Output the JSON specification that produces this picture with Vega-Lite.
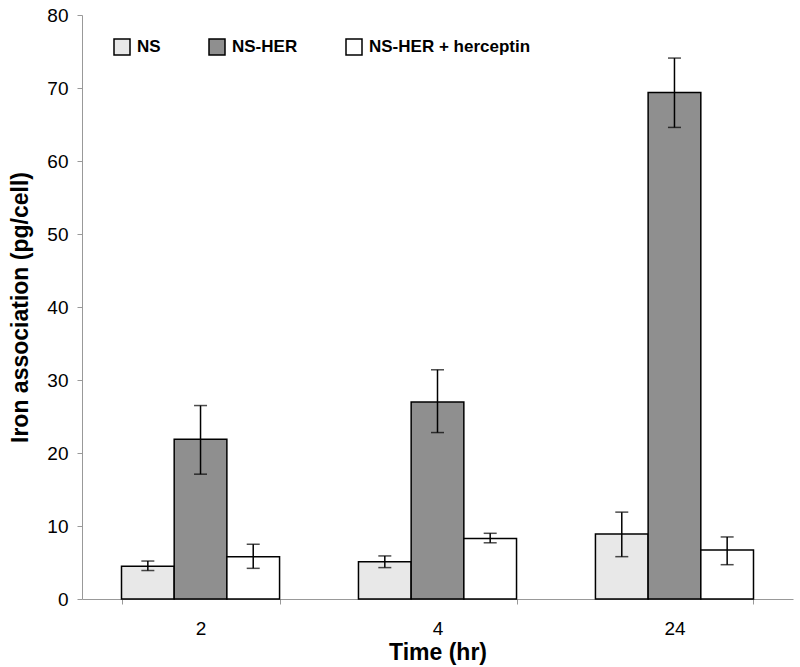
{
  "$schema": "https://vega.github.io/schema/vega-lite/v6.json",
  "width": 711,
  "height": 584,
  "autosize": {"type": "none"},
  "padding": {"left": 82, "top": 15, "right": 7, "bottom": 68},
  "background": "white",
  "config": {
    "view": {"stroke": null},
    "font": "Liberation Sans",
    "axis": {"grid": false, "domainColor": "#999999", "tickColor": "#999999", "labelColor": "#000000", "labelFont": "Liberation Sans", "labelFontSize": 19, "titleFont": "Liberation Sans", "titleFontSize": 23, "titleFontWeight": "bold", "titleColor": "#000000"}
  },
  "data": {
    "values": [
      {"time": "2", "series": "NS", "value": 4.5, "lo": 3.9, "hi": 5.2},
      {"time": "2", "series": "NS-HER", "value": 21.9, "lo": 17.1, "hi": 26.5},
      {"time": "2", "series": "NS-HER + herceptin", "value": 5.8, "lo": 4.2, "hi": 7.5},
      {"time": "4", "series": "NS", "value": 5.1, "lo": 4.3, "hi": 5.9},
      {"time": "4", "series": "NS-HER", "value": 27.0, "lo": 22.8, "hi": 31.4},
      {"time": "4", "series": "NS-HER + herceptin", "value": 8.3, "lo": 7.7, "hi": 9.0},
      {"time": "24", "series": "NS", "value": 8.9, "lo": 5.8, "hi": 11.9},
      {"time": "24", "series": "NS-HER", "value": 69.4, "lo": 64.6, "hi": 74.1},
      {"time": "24", "series": "NS-HER + herceptin", "value": 6.7, "lo": 4.7, "hi": 8.5}
    ]
  },
  "encoding": {
    "x": {
      "field": "time", "type": "nominal", "sort": ["2", "4", "24"],
      "scale": {"paddingInner": 0.333, "paddingOuter": 0.1667},
      "axis": {"title": "Time (hr)", "labelAngle": 0, "tickBand": "extent", "tickSize": 5, "labelPadding": 15, "titlePadding": 3}
    },
    "xOffset": {"field": "series", "type": "nominal", "sort": ["NS", "NS-HER", "NS-HER + herceptin"], "scale": {"paddingInner": 0, "paddingOuter": 0}}
  },
  "layer": [
    {
      "mark": {"type": "bar", "stroke": "#000000", "strokeWidth": 1.5},
      "encoding": {
        "y": {"field": "value", "type": "quantitative", "scale": {"domain": [0, 80]},
          "axis": {"title": "Iron association (pg/cell)", "values": [0, 10, 20, 30, 40, 50, 60, 70, 80], "tickSize": 5, "labelPadding": 9, "titlePadding": 14}},
        "fill": {
          "field": "series", "type": "nominal", "sort": ["NS", "NS-HER", "NS-HER + herceptin"],
          "scale": {"range": ["#e8e8e8", "#8f8f8f", "#ffffff"]},
          "legend": {
            "title": null, "orient": "none", "legendX": 31, "legendY": 23, "direction": "horizontal",
            "symbolType": "square", "symbolSize": 256, "symbolStrokeColor": "#000000", "symbolStrokeWidth": 1.5,
            "labelFontSize": 17, "labelFontWeight": "bold", "labelColor": "#000000", "labelFont": "Liberation Sans",
            "labelLimit": 0, "columnPadding": 45, "labelOffset": 6
          }
        }
      }
    },
    {
      "mark": {"type": "rule", "color": "#000000", "strokeWidth": 1.5},
      "encoding": {
        "y": {"field": "lo", "type": "quantitative"},
        "y2": {"field": "hi"}
      }
    },
    {
      "mark": {"type": "tick", "color": "#000000", "thickness": 1.5, "size": 13, "orient": "horizontal"},
      "encoding": {"y": {"field": "lo", "type": "quantitative"}}
    },
    {
      "mark": {"type": "tick", "color": "#000000", "thickness": 1.5, "size": 13, "orient": "horizontal"},
      "encoding": {"y": {"field": "hi", "type": "quantitative"}}
    }
  ]
}
